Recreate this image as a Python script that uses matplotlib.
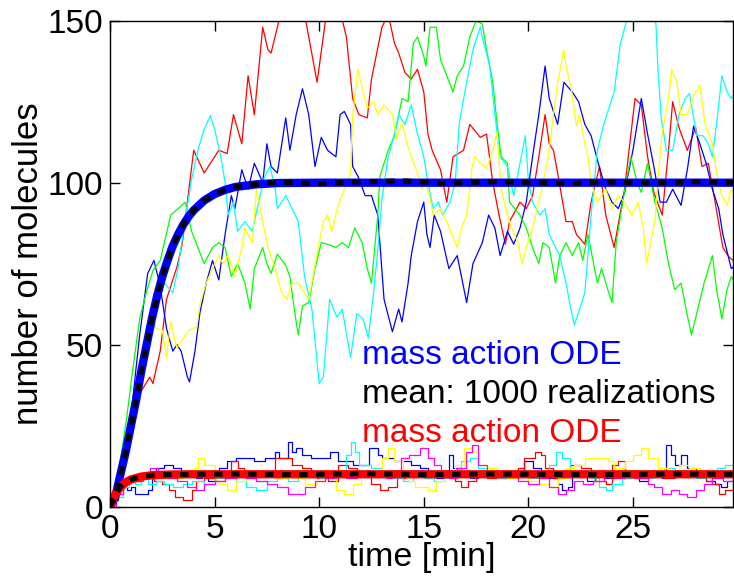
import matplotlib
matplotlib.use("Agg")
import matplotlib.pyplot as plt
import numpy as np

plt.rcParams['font.family'] = ['Liberation Sans', 'DejaVu Sans']

# deterministic (mass action) solutions, protein (~100) and mRNA (~10)
ode_t_hi = [0, 0.25, 0.5, 0.75, 1, 1.25, 1.5, 1.75, 2, 2.25, 2.5, 2.75, 3, 3.25,
            3.5, 3.75, 4, 4.5, 5, 5.5, 6, 7, 8, 10, 29.8]
ode_hi = [0, 3, 10, 17, 25, 33, 42, 50, 58, 65, 71, 76, 80.5, 84,
          87, 89.5, 91.5, 94.5, 96.5, 97.8, 98.7, 99.5, 99.9, 100, 100]
ode_t_lo = [0, 0.125, 0.25, 0.5, 0.75, 1, 1.5, 2, 3, 4, 29.8]
ode_lo = [0, 2.0, 3.8, 6.1, 7.5, 8.4, 9.3, 9.7, 9.95, 10, 10]

# mean over 1000 SSA runs
mean_t_hi = [0, 0.25, 0.5, 0.75, 1, 1.25, 1.5, 1.75, 2, 2.25, 2.5, 2.75, 3, 3.25,
             3.5, 3.75, 4, 4.5, 5, 5.5, 6, 7, 8, 10, 12, 14, 16, 18, 20, 22,
             24, 26, 28, 29.8]
mean_hi = [0, 3, 10, 17, 25, 33, 42, 50, 58, 65, 71, 76, 80.5, 84,
           87, 89.5, 91.5, 94.5, 96.5, 97.8, 98.7, 99.5, 100.2, 99.7, 100.3, 100.6,
           99.8, 100.3, 100.1, 99.8, 100.2, 99.9, 100.3, 100.0]
mean_t_lo = [0, 0.125, 0.25, 0.5, 0.75, 1, 1.5, 2, 3, 4, 6, 9, 12, 15, 18, 21,
             24, 27, 29.8]
mean_lo = [0, 2.0, 3.8, 6.1, 7.5, 8.4, 9.3, 9.7, 9.95, 10, 10.1, 9.9, 10.2, 9.9,
           10.1, 10.0, 9.9, 10.1, 10.0]

# single SSA realizations, protein (time [min], molecules)
red_hi = np.array([
    (0, 0), (0.5, 10), (1.1, 33), (1.43, 35), (1.9, 40), (2.05, 38), (2.4, 48),
    (2.7, 64), (3.2, 74), (3.45, 81), (4.0, 110), (4.5, 103), (5.2, 110),
    (5.6, 109), (5.9, 121), (6.3, 112), (6.6, 133), (6.9, 121), (7.3, 148),
    (7.55, 141), (7.7, 140), (8.3, 156), (8.8, 158), (9.3, 152), (9.5, 145),
    (9.9, 131), (10.3, 150), (10.6, 156), (11.0, 153), (11.3, 145), (11.6, 126),
    (11.9, 121), (12.3, 120), (12.5, 132), (13.0, 148), (13.3, 152), (13.6, 143),
    (13.8, 140), (14.1, 134), (14.4, 132), (14.7, 135), (15.0, 128), (15.2, 115),
    (15.4, 110), (15.8, 104), (16.1, 94), (16.4, 108), (16.9, 110), (17.2, 118),
    (17.7, 114), (18.0, 115), (18.3, 100), (18.6, 90), (18.9, 81), (19.1, 88),
    (19.6, 94), (19.9, 92), (20.2, 96), (20.5, 108), (20.8, 121), (21.0, 112),
    (21.2, 110), (21.4, 103), (21.8, 88), (22.1, 88), (22.3, 84), (22.7, 81),
    (23.0, 94), (23.4, 105), (23.7, 90), (24.1, 80), (24.6, 98), (25.1, 126),
    (25.4, 124), (25.7, 108), (26.0, 97), (26.4, 90), (26.7, 110), (26.9, 125),
    (27.2, 117), (27.6, 110), (28.0, 117), (28.3, 105), (28.6, 106), (28.9, 95),
    (29.3, 80), (29.6, 77), (29.8, 76)])
blue_hi = np.array([
    (0, 0), (0.5, 10), (1.0, 28), (1.4, 52), (1.8, 72), (2.1, 76), (2.4, 68),
    (2.7, 55), (3.0, 48), (3.2, 50), (3.4, 48), (3.7, 40), (3.8, 38.5), (4.06, 48),
    (4.3, 60), (4.6, 69), (4.9, 76), (5.2, 70), (5.5, 84), (5.8, 96), (5.97, 92),
    (6.3, 104), (6.6, 98), (6.9, 106), (7.3, 100), (7.5, 112), (7.7, 105),
    (8.0, 103), (8.4, 120), (8.6, 110), (8.9, 121), (9.2, 129), (9.5, 121),
    (9.8, 105), (10.1, 114), (10.4, 110), (10.8, 108), (11.0, 121), (11.2, 122),
    (11.5, 118), (11.6, 105), (11.85, 102), (12.2, 96), (12.5, 96), (12.8, 90),
    (12.9, 81.5), (13.1, 64), (13.5, 54), (13.8, 61), (13.96, 57), (14.25, 69),
    (14.4, 77.5), (14.7, 88), (15.0, 94), (15.15, 84), (15.3, 80), (15.5, 90),
    (15.8, 85), (16.2, 73.5), (16.6, 77.5), (17.05, 63), (17.35, 75), (17.8, 81.5),
    (18.1, 90), (18.4, 86), (18.65, 77.5), (19.0, 85), (19.3, 81), (19.6, 86),
    (19.9, 94), (20.2, 108), (20.5, 121), (20.8, 136), (21.0, 126), (21.4, 118),
    (21.7, 131), (22.1, 128), (22.4, 125), (22.7, 118), (23.0, 114.5), (23.3, 107),
    (23.7, 98), (24.0, 94), (24.3, 92), (24.6, 97), (25.0, 110), (25.4, 126),
    (25.7, 115), (26.0, 105), (26.3, 94), (26.6, 94), (26.9, 98), (27.3, 93),
    (27.6, 104), (27.9, 117.5), (28.2, 112), (28.5, 106), (28.8, 98), (29.1, 92),
    (29.3, 84), (29.7, 73.5), (29.8, 74)])
green_hi = np.array([
    (0, 0), (0.4, 10), (0.8, 27.6), (1.1, 43), (1.43, 58.5), (1.76, 66.7),
    (2.06, 73), (2.4, 76), (2.9, 90), (3.6, 94), (3.9, 85), (4.2, 80), (4.5, 75),
    (4.9, 80), (5.2, 81.5), (5.5, 80), (5.8, 71), (6.1, 75), (6.45, 69), (6.7, 61),
    (6.9, 73.5), (7.3, 80), (7.5, 75), (7.7, 72), (8.0, 78), (8.4, 74.5), (8.6, 71),
    (8.85, 59), (9.0, 53), (9.2, 62), (9.5, 63), (9.8, 73.5), (10.1, 81.5),
    (10.4, 81), (10.8, 80), (11.1, 81.5), (11.4, 80), (11.7, 86), (12.05, 81.5),
    (12.3, 73.5), (12.5, 69), (12.8, 90), (12.9, 102), (13.3, 110), (13.6, 114.5),
    (13.96, 126), (14.25, 125), (14.5, 143), (14.7, 145), (15.0, 139), (15.1, 136),
    (15.3, 148), (15.6, 148), (15.8, 138), (16.1, 133), (16.4, 128), (16.6, 133),
    (16.9, 136), (17.2, 145), (17.5, 150), (17.8, 149), (18.0, 141), (18.3, 131),
    (18.5, 118.5), (18.7, 108), (19.0, 106), (19.1, 94), (19.6, 90), (19.9, 86),
    (20.2, 80), (20.5, 75), (20.7, 81.5), (21.0, 80), (21.3, 69), (21.5, 77.5),
    (21.8, 81.5), (22.1, 77.5), (22.4, 81.5), (22.6, 76), (22.85, 84), (23.3, 69),
    (23.5, 73.5), (23.8, 67), (24.0, 63), (24.2, 81.5), (24.6, 97.5), (24.9, 108),
    (25.2, 100), (25.4, 97), (25.7, 106), (26.05, 94), (26.4, 86), (26.7, 75),
    (27.0, 67), (27.3, 69), (27.6, 59), (27.8, 53), (28.1, 61), (28.4, 69),
    (28.8, 77.5), (29.0, 67), (29.25, 58), (29.5, 67), (29.7, 71), (29.8, 70)])
cyan_hi = np.array([
    (0, 0), (0.5, 7), (1.0, 20), (1.5, 42), (2.0, 60), (2.3, 65), (2.6, 69),
    (3.0, 66), (3.25, 73.5), (3.6, 89), (3.9, 101), (4.2, 110), (4.5, 116.5),
    (4.8, 120.7), (5.0, 116.5), (5.3, 108), (5.5, 100), (5.65, 90), (5.9, 94),
    (6.1, 85), (6.45, 88), (6.8, 85), (7.1, 94), (7.4, 102), (7.65, 105), (7.9, 98),
    (8.0, 92), (8.4, 96), (8.7, 92), (9.0, 88), (9.3, 71), (9.65, 61), (10.0, 38),
    (10.2, 40), (10.5, 64), (10.85, 58.5), (11.1, 61), (11.5, 46), (11.8, 59.6),
    (12.1, 58), (12.35, 52), (12.6, 66), (12.8, 79), (13.0, 95), (13.3, 108),
    (13.6, 115), (13.8, 121), (14.1, 118), (14.4, 124), (14.7, 115), (15.0, 108),
    (15.2, 100), (15.45, 92), (15.7, 94), (15.9, 90), (16.25, 94), (16.5, 100),
    (16.7, 118.5), (17.05, 131), (17.35, 141), (17.7, 148), (17.8, 145),
    (18.15, 136), (18.4, 121), (18.65, 108), (19.0, 105), (19.3, 96), (19.6, 106),
    (19.85, 114.5), (20.0, 101), (20.2, 94), (20.55, 90), (20.8, 92), (21.0, 84),
    (21.3, 80), (21.5, 77.5), (21.8, 69), (22.0, 62), (22.2, 56), (22.4, 60),
    (22.7, 66), (23.0, 90), (23.3, 110), (23.6, 118), (23.9, 124), (24.1, 128),
    (24.4, 143), (24.7, 150), (25.0, 155), (25.5, 158), (25.9, 154), (26.1, 149),
    (26.2, 134.5), (26.35, 120), (26.6, 110), (26.9, 110), (27.2, 121), (27.5, 126),
    (27.7, 127.5), (28.05, 114.5), (28.35, 114.5), (28.6, 112), (28.8, 108),
    (29.05, 121), (29.25, 133), (29.5, 128), (29.7, 126), (29.8, 127)])
yellow_hi = np.array([
    (0, 0), (0.5, 8), (1.0, 22), (1.3, 33), (1.6, 48), (2.0, 58), (2.2, 55),
    (2.5, 54.5), (2.7, 46), (2.9, 57), (3.2, 49), (3.5, 52), (3.8, 54.5),
    (4.15, 55.5), (4.3, 62.5), (4.6, 69), (4.9, 73.5), (5.2, 77.5), (5.4, 75),
    (5.65, 77.5), (5.97, 71), (6.3, 80), (6.45, 86), (6.8, 81.5), (7.0, 98),
    (7.3, 88), (7.55, 80), (7.9, 73.5), (8.2, 66), (8.45, 64), (8.7, 69), (9.0, 69),
    (9.2, 67), (9.5, 64), (9.7, 71), (9.95, 80), (10.2, 88), (10.4, 90), (10.6, 85),
    (10.9, 93), (11.2, 98), (11.5, 103), (11.6, 121), (11.85, 135), (12.1, 128),
    (12.3, 123), (12.6, 125), (12.8, 121), (13.1, 124), (13.5, 121), (13.7, 113.6),
    (13.96, 118.5), (14.2, 112), (14.4, 108), (14.7, 103), (14.9, 98), (15.1, 100),
    (15.3, 95), (15.45, 90), (15.8, 92), (16.1, 88), (16.35, 84), (16.6, 80),
    (16.8, 86), (17.05, 90), (17.3, 104.5), (17.45, 108), (17.7, 106), (18.0, 104.5),
    (18.3, 110), (18.5, 115.5), (18.7, 98), (19.0, 90), (19.2, 86), (19.5, 81.5),
    (19.7, 75), (19.9, 80), (20.2, 86), (20.5, 94), (20.7, 100), (20.95, 108),
    (21.2, 121), (21.4, 131), (21.7, 141), (21.8, 136), (22.05, 129), (22.3, 117.6),
    (22.45, 121), (22.7, 112), (22.85, 108), (23.0, 100), (23.3, 94), (23.7, 98),
    (24.0, 92), (24.3, 96), (24.6, 94), (24.95, 90), (25.25, 94), (25.5, 86),
    (25.65, 75), (25.8, 80), (26.05, 88), (26.2, 102), (26.4, 115.5), (26.7, 126),
    (26.85, 135), (27.1, 131), (27.3, 121), (27.6, 121), (27.9, 127), (28.2, 130),
    (28.45, 118), (28.8, 112), (29.0, 103), (29.25, 96), (29.5, 93), (29.7, 98),
    (29.8, 97)])

# single SSA realizations, mRNA (time [min], molecules)
blue_lo = np.array([
    (0, 0), (0.2, 2), (0.4, 4), (0.6, 6), (0.8, 5), (1.0, 6), (1.2, 4), (1.8, 5),
    (2.0, 9), (2.2, 12), (2.6, 13), (3.0, 12), (3.4, 11), (3.8, 10), (4.1, 9),
    (4.4, 10), (4.7, 8), (5.0, 10), (5.2, 12), (5.6, 14), (6.0, 15), (6.9, 14),
    (7.4, 15), (7.9, 17), (8.1, 15), (8.5, 20), (8.7, 17), (8.9, 18), (9.2, 16),
    (9.6, 15), (10.5, 17), (10.9, 14), (11.6, 13), (12.4, 18), (12.8, 16),
    (13.0, 15), (13.6, 14), (14.4, 13), (14.8, 12), (15.2, 10), (15.6, 9),
    (16.0, 11), (16.2, 16), (16.4, 12), (16.8, 10), (17.2, 9), (17.6, 11),
    (18.0, 10), (18.5, 9), (19.0, 10), (19.5, 11), (19.8, 14), (20.2, 12),
    (20.6, 10), (21.0, 9), (21.4, 7), (21.6, 5), (21.9, 6), (22.1, 10), (22.5, 11),
    (22.8, 8), (23.2, 10), (23.6, 9), (24.1, 11), (24.5, 9), (24.9, 10), (25.3, 8),
    (25.7, 11), (26.0, 10), (26.4, 9), (26.6, 19), (26.8, 16), (27.0, 13),
    (27.3, 16), (27.6, 12), (28.0, 11), (28.3, 10), (28.5, 8), (28.9, 7), (29.2, 6),
    (29.5, 8), (29.8, 8)])
red_lo = np.array([
    (0, 0), (0.2, 3), (0.4, 6), (0.6, 8), (0.9, 9), (1.2, 8), (1.5, 10), (1.8, 9),
    (2.1, 8), (2.5, 7), (2.8, 5), (3.1, 3), (3.5, 2), (3.9, 5), (4.1, 8), (4.5, 9),
    (5.0, 8), (5.5, 10), (5.8, 14), (6.1, 12), (6.4, 11), (7.0, 10), (7.5, 11),
    (7.9, 15), (8.7, 13), (9.2, 12), (9.6, 11), (9.9, 9), (10.4, 8), (10.9, 13),
    (11.4, 12), (11.8, 11), (12.2, 10), (12.5, 7), (12.9, 5), (13.3, 6), (13.7, 9),
    (14.1, 10), (14.6, 11), (15.0, 9), (15.5, 10), (16.0, 11), (16.5, 8), (16.8, 6),
    (17.1, 8), (17.5, 10), (18.0, 9), (18.5, 11), (19.0, 10), (19.5, 12),
    (19.8, 15), (20.3, 17), (20.6, 16), (20.8, 12), (21.2, 9), (21.6, 10),
    (22.0, 13), (22.5, 12), (23.0, 10), (23.2, 8), (23.7, 7), (24.0, 13), (24.3, 14),
    (24.6, 10), (25.0, 9), (25.5, 10), (26.0, 11), (26.5, 9), (27.0, 10), (27.5, 11),
    (28.0, 10), (28.5, 8), (28.8, 7), (29.1, 4), (29.4, 5), (29.8, 6)])
cyan_lo = np.array([
    (0, 0), (0.3, 3), (0.6, 6), (0.9, 8), (1.2, 7), (1.5, 9), (1.8, 7), (2.2, 8),
    (2.6, 7), (3.0, 6), (3.5, 7), (3.9, 8), (4.5, 7), (5.0, 9), (5.5, 10), (6.0, 8),
    (6.5, 6), (7.0, 5), (7.5, 8), (8.0, 9), (8.5, 8), (9.0, 10), (9.5, 11),
    (10.0, 9), (10.5, 10), (11.0, 11), (11.3, 16), (11.5, 20), (11.7, 17),
    (11.9, 13), (12.5, 12), (13.0, 10), (13.5, 9), (14.0, 8), (14.5, 10), (15.0, 9),
    (15.5, 8), (16.0, 9), (16.5, 11), (16.8, 14), (17.2, 15), (17.6, 12), (18.0, 10),
    (18.5, 9), (19.0, 11), (19.5, 10), (20.0, 9), (20.5, 11), (21.0, 13),
    (21.3, 17), (21.6, 15), (22.0, 11), (22.5, 10), (23.0, 9), (23.4, 6), (23.7, 5),
    (24.0, 7), (24.5, 9), (25.0, 10), (25.5, 9), (26.0, 10), (26.5, 12), (27.0, 11),
    (27.5, 10), (28.0, 9), (28.5, 10), (29.0, 12), (29.4, 13), (29.8, 12)])
yellow_lo = np.array([
    (0, 0), (0.3, 4), (0.6, 7), (0.9, 9), (1.2, 8), (1.5, 10), (1.8, 9), (2.0, 11),
    (2.6, 10), (3.0, 9), (3.5, 11), (4.0, 12), (4.2, 15), (4.5, 13), (5.0, 10),
    (5.2, 7), (5.6, 5), (6.0, 8), (6.5, 9), (7.0, 11), (7.5, 10), (8.0, 9),
    (8.5, 11), (9.0, 9), (9.3, 7), (9.9, 8), (10.3, 9), (10.8, 5), (11.2, 4),
    (11.6, 7), (12.0, 10), (12.5, 11), (13.0, 15), (13.3, 18), (13.6, 14),
    (14.0, 10), (14.3, 8), (14.6, 6), (15.2, 5), (15.6, 8), (16.0, 10), (16.5, 13),
    (16.9, 18), (17.3, 17), (17.6, 13), (18.0, 12), (18.5, 10), (19.0, 9),
    (19.5, 11), (20.0, 8), (20.5, 7), (21.0, 6), (21.4, 9), (21.8, 12), (22.2, 13),
    (22.7, 15), (23.8, 14), (24.1, 12), (24.6, 14), (25.0, 16), (25.4, 18),
    (25.7, 15), (26.2, 12), (26.7, 11), (27.2, 13), (27.7, 12), (28.2, 10),
    (28.7, 9), (29.2, 10), (29.8, 11)])
magenta_lo = np.array([
    (0, 0), (0.3, 4), (0.6, 7), (0.9, 9), (1.2, 8), (1.6, 9), (1.9, 12), (2.3, 11),
    (2.7, 9), (3.2, 8), (3.7, 6), (4.1, 5), (4.5, 7), (5.0, 8), (5.5, 9), (6.0, 10),
    (6.5, 9), (7.0, 8), (7.5, 7), (8.0, 6), (8.5, 4), (9.3, 6), (9.8, 8), (10.3, 9),
    (10.8, 10), (11.3, 9), (11.8, 10), (12.3, 11), (12.8, 10), (13.2, 9),
    (13.5, 11), (13.9, 15), (14.3, 16), (14.8, 18), (15.2, 15), (15.5, 13),
    (15.8, 10), (16.2, 9), (16.6, 12), (17.0, 17), (17.3, 19), (17.6, 13),
    (18.0, 11), (18.5, 10), (19.0, 11), (19.5, 8), (20.0, 7), (20.5, 9), (21.0, 6),
    (21.4, 4), (21.8, 5), (22.2, 8), (22.6, 7), (23.1, 8), (23.6, 10), (24.1, 9),
    (24.6, 10), (25.1, 9), (25.7, 7), (26.0, 6), (26.4, 4), (26.8, 5), (27.2, 4),
    (27.6, 3), (28.0, 5), (28.4, 7), (28.8, 9), (29.3, 8), (29.8, 9)])

legend_lines = ['mass action ODE', 'mean: 1000 realizations', 'mass action ODE']
legend_colors = ['#0000ff', 'black', '#ff0000']

fig = plt.figure(figsize=(7.34, 5.80), dpi=100)
ax = fig.add_axes([0.1499, 0.1264, 0.8492, 0.8379])

hi_runs = [(red_hi, '#ff0000'), (blue_hi, '#0000ff'), (green_hi, '#00ff00'),
           (cyan_hi, '#00ffff'), (yellow_hi, '#ffff00')]
lo_runs = [(blue_lo, '#0000ff'), (red_lo, '#ff0000'), (cyan_lo, '#00ffff'),
           (yellow_lo, '#ffff00'), (magenta_lo, '#ff00ff')]

for run, col in hi_runs:
    ax.plot(run[:, 0], run[:, 1], color=col, lw=0.9)
for run, col in lo_runs:
    ax.plot(run[:, 0], run[:, 1], color=col, lw=0.9, drawstyle='steps-post')

ax.plot(ode_t_hi, ode_hi, color='#0000ff', lw=6, solid_capstyle='butt')
ax.plot(ode_t_lo, ode_lo, color='#ff0000', lw=6, solid_capstyle='butt')
ax.plot(mean_t_hi, mean_hi, color='black', lw=3.6, dashes=(1.7, 1.7),
        dash_capstyle='butt')
ax.plot(mean_t_lo, mean_lo, color='black', lw=3.6, dashes=(1.7, 1.7),
        dash_capstyle='butt')

for i, (txt, col) in enumerate(zip(legend_lines, legend_colors)):
    ax.text(12.05, 46.7 - 12 * i, txt, color=col, fontsize=24,
            ha='left', va='center')

ax.set_xlim(0, 29.8)
ax.set_ylim(0, 150)
ax.set_xticks([0, 5, 10, 15, 20, 25])
ax.set_yticks([0, 50, 100, 150])
ax.tick_params(direction='in', top=True, right=True, length=7, width=1,
               labelsize=24, pad=5)
for s in ax.spines.values():
    s.set_linewidth(1.0)
ax.set_xlabel('time [min]', fontsize=24.5, labelpad=-2)
ax.set_ylabel('number of molecules', fontsize=25, labelpad=2)

fig.savefig('out.png', dpi=100)
